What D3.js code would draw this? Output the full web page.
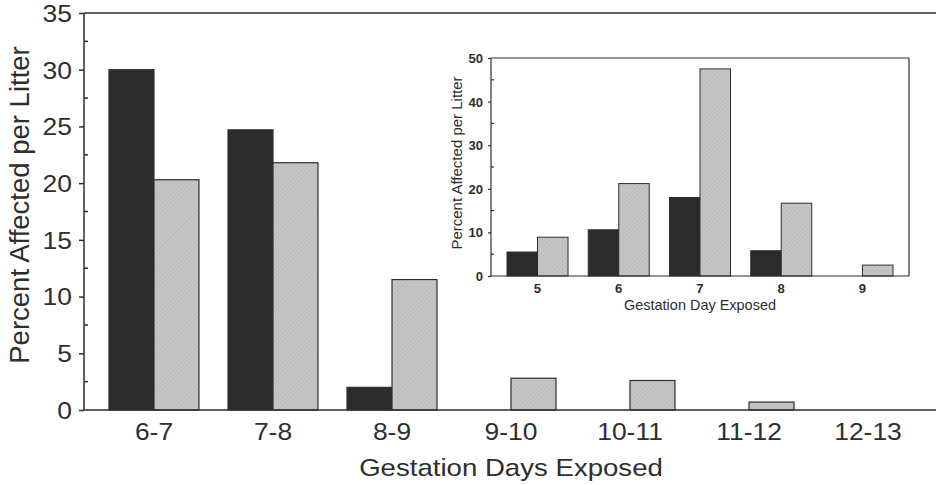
<!DOCTYPE html>
<html><head><meta charset="utf-8">
<script src="https://cdn.jsdelivr.net/npm/d3@7"></script>
<style>body{margin:0;background:#fff}svg{display:block;font-family:Arial,"Liberation Sans",sans-serif}</style>
</head><body><svg id="c" width="936" height="485"></svg>
<script>
const mainCategories = ["6-7","7-8","8-9","9-10","10-11","11-12","12-13"];
const mainDark  = [30.0, 24.7, 2.0, 0, 0, 0, 0];
const mainLight = [20.3, 21.8, 11.5, 2.8, 2.6, 0.7, 0];
const mainYTicks = [0,5,10,15,20,25,30,35];
const insetCategories = ["5","6","7","8","9"];
const insetDark  = [5.5, 10.6, 18.0, 5.8, 0];
const insetLight = [8.9, 21.2, 47.5, 16.7, 2.5];
const insetYTicks = [0,10,20,30,40,50];
const mainXTitle = "Gestation Days Exposed";
const mainYTitle = "Percent Affected per Litter";
const insetXTitle = "Gestation Day Exposed";
const insetYTitle = "Percent Affected per Litter";

const svg = d3.select("#c");
const ink = "#2e2e2e", darkFill = "#2b2b2b", lightFill = "#c6c6c6";

const defs = svg.append("defs");
const pat = defs.append("pattern").attr("id","hatch").attr("width",3).attr("height",3)
  .attr("patternUnits","userSpaceOnUse").attr("patternTransform","rotate(45)");
pat.append("rect").attr("width",3).attr("height",3).attr("fill",lightFill);
pat.append("line").attr("x1",0).attr("y1",0).attr("x2",0).attr("y2",3).attr("stroke","#afafaf").attr("stroke-width",1);

function drawChart(g, o) {
  const x = d3.scaleBand().domain(o.cats).range([o.left, o.right]).paddingInner(o.pi).paddingOuter(o.po);
  const y = d3.scaleLinear().domain([0, o.ymax]).range([o.bottom, o.top]);
  const bw = x.bandwidth()/2;
  if (o.box) g.append("rect").attr("x",o.left).attr("y",o.top).attr("width",o.right-o.left).attr("height",o.bottom-o.top).attr("fill","#fff");
  const groups = o.cats.map((c,i)=>({c, d:o.dark[i], l:o.light[i]}));
  g.selectAll(null).data(groups.filter(d=>d.d>0)).join("rect")
    .attr("x",d=>x(d.c)).attr("y",d=>y(d.d)).attr("width",bw).attr("height",d=>y(0)-y(d.d))
    .attr("fill",darkFill).attr("stroke",ink).attr("stroke-width",o.sw);
  g.selectAll(null).data(groups.filter(d=>d.l>0)).join("rect")
    .attr("x",d=>x(d.c)+bw).attr("y",d=>y(d.l)).attr("width",bw).attr("height",d=>y(0)-y(d.l))
    .attr("fill","url(#hatch)").attr("stroke",ink).attr("stroke-width",o.sw);
  const ax = g.append("g").attr("stroke",ink).attr("stroke-width",o.fw).attr("fill","none");
  ax.append("line").attr("x1",o.left).attr("x2",o.frameRight).attr("y1",o.top).attr("y2",o.top);
  ax.append("line").attr("x1",o.left).attr("x2",o.frameRight).attr("y1",o.bottom).attr("y2",o.bottom);
  ax.append("line").attr("x1",o.left).attr("x2",o.left).attr("y1",o.top).attr("y2",o.bottom);
  if (o.box) ax.append("line").attr("x1",o.right).attr("x2",o.right).attr("y1",o.top).attr("y2",o.bottom);
  const yAxis = d3.axisLeft(y).tickValues(o.yticks).tickSize(o.tick).tickPadding(o.tpad).tickFormat(d3.format("d"));
  const ya = g.append("g").attr("transform",`translate(${o.left},0)`).call(yAxis);
  ya.select(".domain").remove();
  ya.selectAll(".tick line").attr("stroke",ink).attr("stroke-width",o.fw);
  ya.selectAll(".tick text").attr("fill",ink).attr("font-size",o.tfs).attr("font-weight",o.tfw)
    .attr("font-family","Arial, 'Liberation Sans', sans-serif")
    .attr("transform",`scale(${o.sx},1)`).attr("x",-(o.tick+o.tpad)/o.sx).attr("dy","0.36em");
  const minors = o.yticks.slice(0,-1).map((t,i)=>(t+o.yticks[i+1])/2);
  g.selectAll(null).data(minors).join("line").attr("x1",o.left).attr("x2",o.left+o.minor)
    .attr("y1",d=>y(d)).attr("y2",d=>y(d)).attr("stroke",ink).attr("stroke-width",o.fw);
  g.selectAll(null).data(o.cats).join("text")
    .attr("transform",d=>`translate(${x(d)+x.bandwidth()/2},${o.xly}) scale(${o.sx},1)`)
    .attr("text-anchor","middle").attr("fill",ink).attr("font-size",o.tfs).attr("font-weight",o.tfw).text(d=>d);
  g.append("text").attr("transform",`translate(${o.xtx},${o.xty}) scale(${o.sx},1)`)
    .attr("text-anchor","middle").attr("fill",ink).attr("font-size",o.xtfs).text(o.xt);
  g.append("text").attr("transform",`translate(${o.ytx},${o.yty}) rotate(-90)`)
    .attr("text-anchor","middle").attr("fill",ink).attr("font-size",o.ytfs).text(o.yt);
}

drawChart(svg.append("g"), {
  cats: mainCategories, dark: mainDark, light: mainLight, yticks: mainYTicks, ymax: 35,
  left: 84, right: 938, frameRight: 936, top: 13, bottom: 410, pi: 0.244, po: 0.21,
  sw: 1.2, fw: 1.5, tick: 5, tpad: 7, minor: 4, tfs: 23, tfw: "normal", sx: 1.15,
  xly: 440, xtx: 511, xty: 476, xtfs: 24, xt: mainXTitle,
  ytx: 29, yty: 205, ytfs: 27.5, yt: mainYTitle, box: false
});
drawChart(svg.append("g"), {
  cats: insetCategories, dark: insetDark, light: insetLight, yticks: insetYTicks, ymax: 50,
  left: 491, right: 909, frameRight: 909, top: 58, bottom: 276, pi: 0.249, po: 0.197,
  sw: 1, fw: 1.2, tick: 3, tpad: 5, minor: 3, tfs: 12.5, tfw: "bold", sx: 1.05,
  xly: 293, xtx: 700, xty: 310, xtfs: 13.8, xt: insetXTitle,
  ytx: 462, yty: 163, ytfs: 15, yt: insetYTitle, box: true
});
</script></body></html>
